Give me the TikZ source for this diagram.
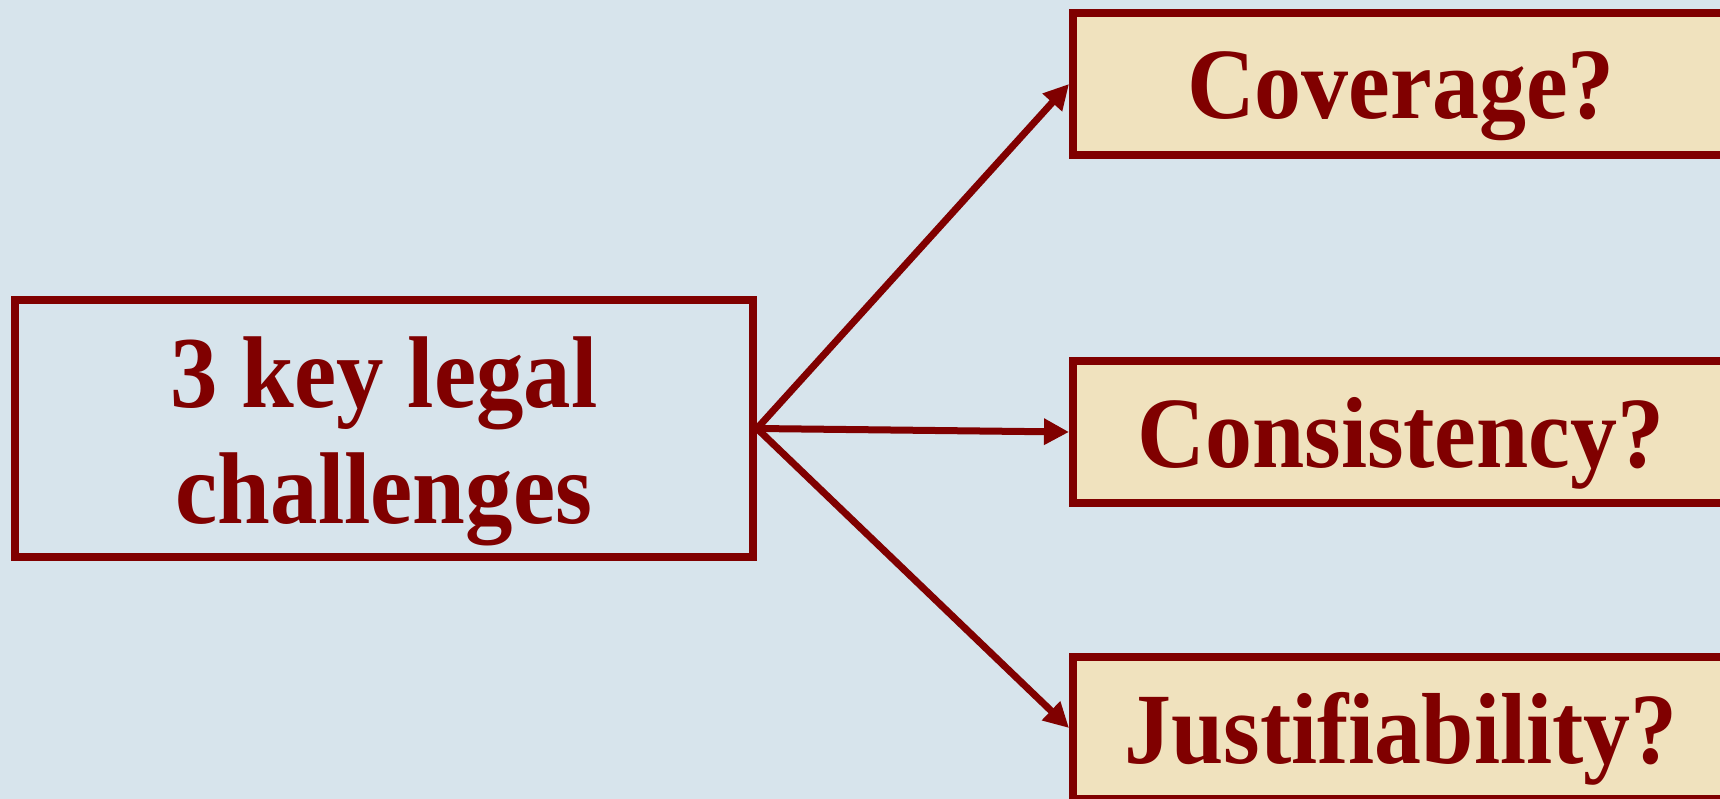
\documentclass[tikz,border=0pt]{standalone}
\usepackage{fontspec}
\newfontfamily\tnr{Liberation Serif}[FakeStretch=0.93]
\usetikzlibrary{arrows.meta}
\definecolor{bgblue}{RGB}{215,228,236}
\definecolor{darkred}{RGB}{128,0,0}
\definecolor{parch}{RGB}{240,226,190}
\tikzset{
  lbox/.style={draw=darkred, line width=8pt, minimum width=738pt, minimum height=257pt, inner sep=0pt},
  qbox/.style={draw=darkred, fill=parch, line width=8pt, minimum width=656pt, minimum height=142pt, inner sep=0pt,
    text=darkred, font=\tnr\bfseries\fontsize{101}{116}\selectfont, text height=70pt, text depth=0pt},
  txt/.style={text=darkred, font=\tnr\bfseries\fontsize{102}{116}\selectfont, inner sep=0pt},
  arr/.style={draw=darkred, line width=7pt, -{Triangle[length=25pt,width=25pt]}}
}
\begin{document}
\begin{tikzpicture}[x=1pt,y=-1pt]
\useasboundingbox (0,0) rectangle (1720,799);
\clip (0,0) rectangle (1720,799);
\fill[bgblue] (0,0) rectangle (1720,799);
\node[lbox] (q) at (384,428.5) {};
\node[txt, anchor=base] (qt1) at (384,407) {3 key legal};
\node[txt, anchor=base] (qt2) at (384,523) {challenges};
\node[qbox] (c1) at (1401,84) {Coverage?};
\node[qbox] (c2) at (1401,432) {Consistency?};
\node[qbox] (c3) at (1401,728) {Justifiability?};
\draw[arr] (q.east) -- (c1.west);
\draw[arr] (q.east) -- (c2.west);
\draw[arr] (q.east) -- (c3.west);
\end{tikzpicture}
\end{document}
